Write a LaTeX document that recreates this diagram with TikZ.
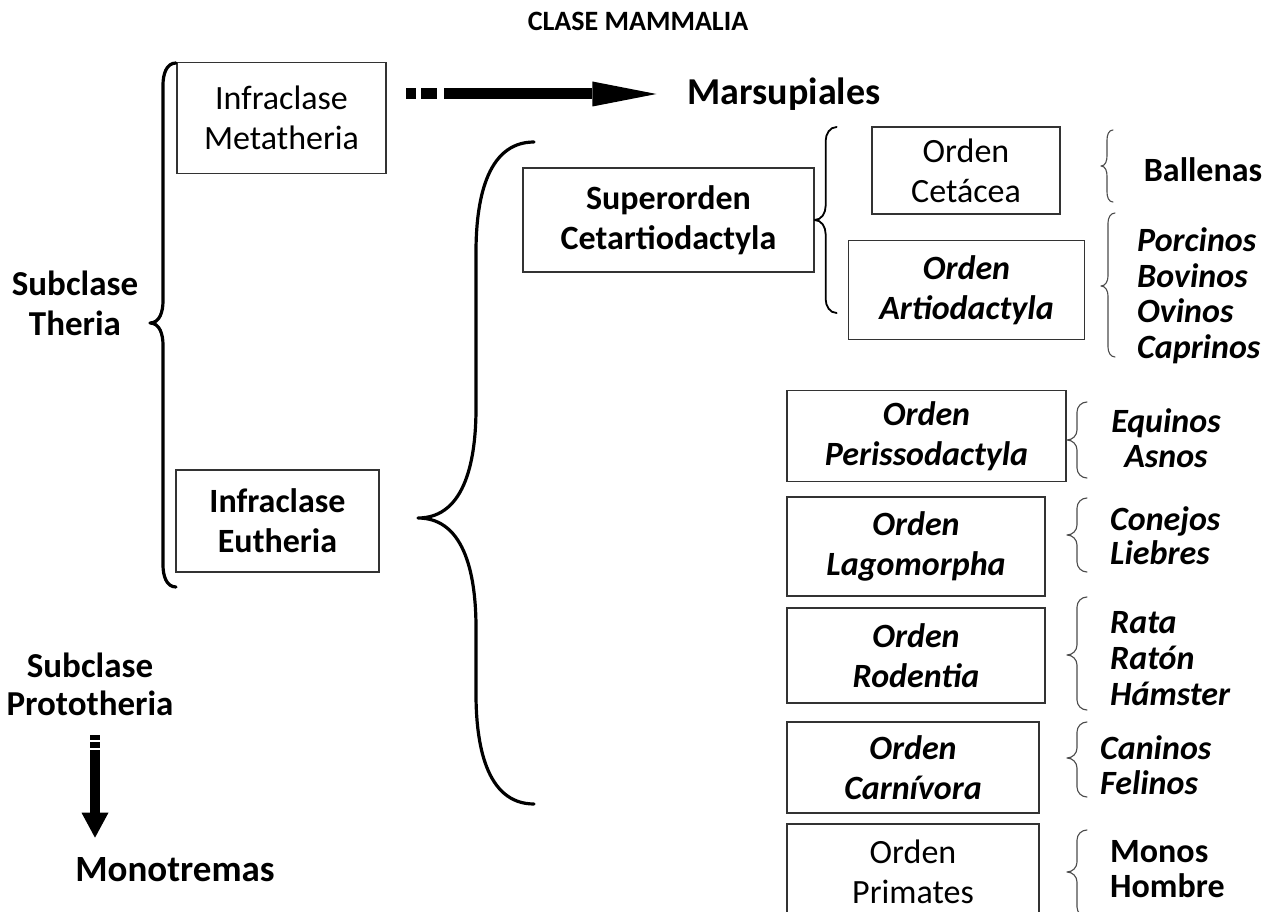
\documentclass[tikz,border=0pt]{standalone}
\usepackage{fontspec}
\setmainfont{Carlito}
\usetikzlibrary{arrows.meta}

% curly brace opening to the right: [style] tip, half width, up, down, bend
\newcommand{\curly}[6][]{%
  \draw[#1] (#2) to[out=0,in=-90] ++(#3,#6) -- ++(0,#4-2*#6) to[out=90,in=180] ++(#3,#6)
            (#2) to[out=0,in=90] ++(#3,-#6) -- ++(0,-#5+2*#6) to[out=-90,in=180] ++(#3,-#6);}

\begin{document}
\begin{tikzpicture}[x=1pt,y=1pt,
        plainbox/.style={draw=black!80,line width=1.3pt,inner sep=0pt,align=center,
            font=\fontsize{34}{40}\selectfont},
        boldbox/.style={plainbox,font=\fontsize{34}{40}\selectfont\bfseries},
        itbox/.style={plainbox,font=\fontsize{34}{40}\selectfont\bfseries\itshape},
        label/.style={inner sep=0pt,align=center,font=\fontsize{35}{40}\selectfont\bfseries},
        leaf/.style={inner sep=0pt,align=left,font=\fontsize{34}{35}\selectfont\bfseries\itshape},
        bigbrace/.style={line width=3.2pt,line cap=round},
        midbrace/.style={line width=1.8pt,line cap=round},
        smallbrace/.style={line width=1.1pt,line cap=round,black!70},
        fatarrow/.style={line width=11pt,-{Triangle[length=64pt,width=25pt,line width=0pt]}},
        downarrow/.style={line width=10pt,-{Triangle[length=25pt,width=27pt,line width=0pt]}}]

    \path[fill=white,use as bounding box] (0,0) rectangle (1275,-912);

    % Title and subclasses
    \node[label,font=\fontsize{28}{34}\selectfont\bfseries] (title) at (638,-21) {CLASE MAMMALIA};
    \node[label] (theria) at (75,-303) {Subclase\\Theria};
    \node[label,font=\fontsize{35}{38}\selectfont\bfseries] (proto) at (90,-684) {Subclase\\Prototheria};
    \node[label,font=\fontsize{37}{44}\selectfont\bfseries] (mono) at (175,-870) {Monotremas};

    % Infraclases
    \node[plainbox,minimum width=209pt,minimum height=111pt] (meta) at (281.5,-118) {Infraclase\\Metatheria};
    \node[boldbox,minimum width=203pt,minimum height=102pt] (euth) at (277.5,-521) {Infraclase\\Eutheria};
    \node[label,font=\fontsize{38}{44}\selectfont\bfseries] (marsup) at (784,-94) {Marsupiales};

    % Superorden and its orders
    \node[boldbox,minimum width=291pt,minimum height=104pt] (super) at (668.5,-220) {Superorden\\Cetartiodactyla};
    \node[plainbox,minimum width=188pt,minimum height=87pt] (cetacea) at (966,-170.5) {Orden\\Cetácea};
    \node[itbox,minimum width=236pt,minimum height=99pt] (artio) at (966.5,-290) {Orden\\Artiodactyla};

    % Other orders
    \node[itbox,minimum width=279pt,minimum height=91pt] (periso) at (926.5,-436) {Orden\\Perissodactyla};
    \node[itbox,minimum width=258pt,minimum height=99pt] (lago) at (916,-546.5) {Orden\\Lagomorpha};
    \node[itbox,minimum width=258pt,minimum height=95pt] (roden) at (916,-655.5) {Orden\\Rodentia};
    \node[itbox,minimum width=252pt,minimum height=91pt] (carni) at (913,-767.5) {Orden\\Carnívora};
    \node[plainbox,minimum width=252pt,minimum height=96pt] (prim) at (913,-872) {Orden\\Primates};

    % Animals
    \node[label,font=\fontsize{34}{40}\selectfont\bfseries] (ballenas) at (1203,-170) {Ballenas};
    \node[leaf,anchor=west,font=\fontsize{34}{35.5}\selectfont\bfseries\itshape] (artiolist) at (1137,-295.5) {Porcinos\\Bovinos\\Ovinos\\Caprinos};
    \node[leaf,align=center] (equinos) at (1166,-438) {Equinos\\Asnos};
    \node[leaf,anchor=west,font=\fontsize{34}{34}\selectfont\bfseries\itshape] (conejos) at (1110,-536) {Conejos\\Liebres};
    \node[leaf,anchor=west,font=\fontsize{34}{36}\selectfont\bfseries\itshape] (rata) at (1110,-659) {Rata\\Ratón\\Hámster};
    \node[leaf,anchor=west] (caninos) at (1100,-765) {Caninos\\Felinos};
    \node[leaf,anchor=west,font=\fontsize{34}{35}\selectfont\bfseries] (monos) at (1110,-869) {Monos\\Hombre};

    % Braces
    \curly[bigbrace]{150,-323}{13}{260}{264}{22}
    \curly[bigbrace]{418,-518}{58}{376}{286}{110}
    \curly[midbrace]{super.east}{11}{93}{93}{14}
    \curly[smallbrace]{1101,-166}{6}{36}{36}{10}
    \curly[smallbrace]{1101,-286}{7}{73}{71}{10}
    \curly[smallbrace]{1067,-440}{10}{38}{38}{10}
    \curly[smallbrace]{1067,-535}{10}{37}{37}{10}
    \curly[smallbrace]{1067,-655}{10}{58}{55}{10}
    \curly[smallbrace]{1067,-758}{10}{36}{39}{10}
    \curly[smallbrace]{1067,-872}{10}{42}{45}{10}

    % Arrows
    \coordinate (mstart) at (406,-94);
    \coordinate (pstart) at (95,-735);
    \draw[fatarrow,dash pattern=on 10pt off 5pt on 16pt off 7pt on 400pt off 0pt,shorten >=31pt] (mstart) -- (marsup.west);
    \draw[downarrow,dash pattern=on 5pt off 2pt on 6pt off 2pt on 300pt off 0pt,shorten >=20pt] (pstart) -- (mono.north -| pstart);
\end{tikzpicture}
\end{document}
